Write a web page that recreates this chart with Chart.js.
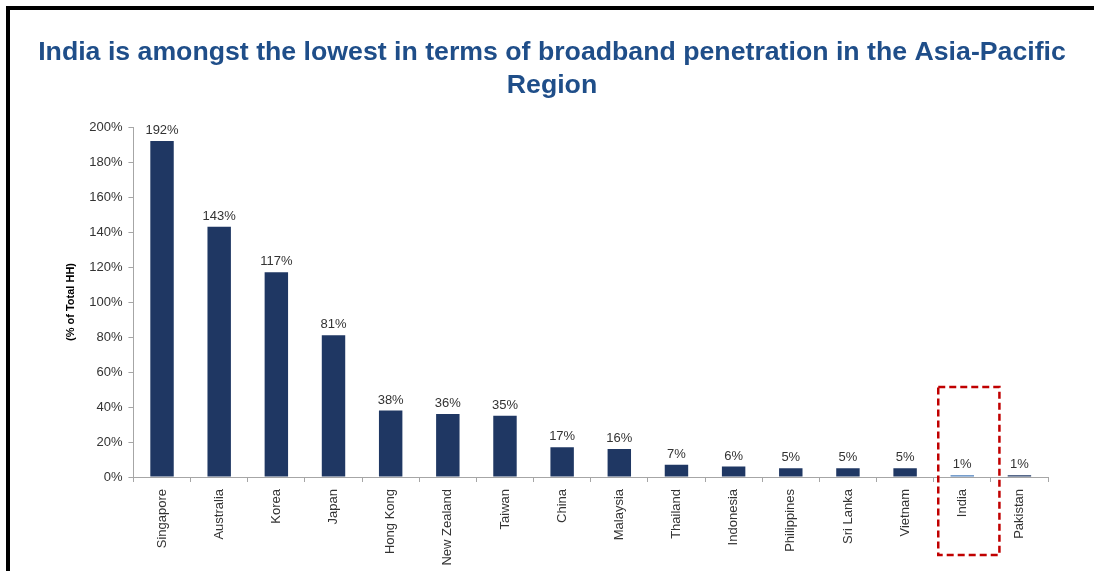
<!DOCTYPE html>
<html>
<head>
<meta charset="utf-8">
<title>Broadband penetration in Asia-Pacific</title>
<script src="https://cdn.jsdelivr.net/npm/chart.js@4"></script>
<style>
  html, body { margin: 0; padding: 0; background: #fff; }
  #wrap { position: relative; width: 1094px; height: 571px; overflow: hidden; }
  #frame {
    position: absolute; left: 6px; top: 6px; width: 1200px; height: 700px;
    border-top: 4px solid #000; border-left: 4px solid #000; pointer-events: none;
  }
  canvas { position: absolute; left: 0; top: 0; }
</style>
</head>
<body>
<div id="wrap">
  <canvas id="chart" width="1094" height="571"></canvas>
  <div id="frame"></div>
</div>
<script>
const countries = [
  'Singapore', 'Australia', 'Korea', 'Japan', 'Hong Kong', 'New Zealand', 'Taiwan', 'China',
  'Malaysia', 'Thailand', 'Indonesia', 'Philippines', 'Sri Lanka', 'Vietnam', 'India', 'Pakistan',
];
const penetration = [192, 143, 117, 81, 38, 36, 35, 17, 16, 7, 6, 5, 5, 5, 1, 1];
const highlight = 'India';
const titleLines = [
  'India is amongst the lowest in terms of broadband penetration in the Asia-Pacific',
  'Region',
];

const NAVY = '#1F3763';
const HIGHLIGHT_BLUE = '#4A7EBB';
const AXIS_GREY = '#A6A6A6';
const TEXT = '#333333';
const FONT = 'Arial, "Liberation Sans", Helvetica, sans-serif';

// two-line heading, drawn by hand so it can run wider than the plot
const heading = {
  id: 'heading',
  afterDraw(chart) {
    const { ctx } = chart;
    ctx.save();
    ctx.font = `bold 26.7px ${FONT}`;
    ctx.fillStyle = '#1F4E89';
    ctx.textAlign = 'center';
    ctx.textBaseline = 'middle';
    titleLines.forEach((line, i) => {
      ctx.fillText(line, chart.width / 2 + 5, 53 + i * 33);
    });
    ctx.restore();
  },
};

// value labels over each bar
const valueLabels = {
  id: 'valueLabels',
  afterDatasetsDraw(chart) {
    const { ctx } = chart;
    const meta = chart.getDatasetMeta(0);
    ctx.save();
    ctx.font = `13px ${FONT}`;
    ctx.fillStyle = TEXT;
    ctx.textAlign = 'center';
    ctx.textBaseline = 'bottom';
    meta.data.forEach((bar, i) => {
      ctx.fillText(penetration[i] + '%', bar.x, bar.y - 4);
    });
    ctx.restore();
  },
};

// dashed call-out box around the highlighted country
const highlightBox = {
  id: 'highlightBox',
  afterDraw(chart) {
    const { ctx, chartArea } = chart;
    const x = chart.scales.x;
    const y = chart.scales.y;
    const idx = countries.indexOf(highlight);
    const cx = x.getPixelForValue(idx);
    const step = x.width / countries.length;
    const left = cx - step * 0.42;
    const right = cx + step * 0.65;
    const top = y.getPixelForValue(51.5);
    const bottom = chartArea.bottom + 78;
    ctx.save();
    ctx.strokeStyle = '#C00000';
    ctx.lineWidth = 2.5;
    ctx.setLineDash([7, 4]);
    ctx.strokeRect(left, top, right - left, bottom - top);
    ctx.restore();
  },
};

new Chart(document.getElementById('chart'), {
  type: 'bar',
  data: {
    labels: countries,
    datasets: [{
      data: penetration,
      backgroundColor: countries.map(c => (c === highlight ? HIGHLIGHT_BLUE : NAVY)),
      borderWidth: 0,
      categoryPercentage: 1,
      barPercentage: 0.41,
    }],
  },
  options: {
    responsive: false,
    animation: false,
    devicePixelRatio: 1,
    layout: { padding: { top: 127, left: 64, right: 46, bottom: 0 } },
    plugins: {
      legend: { display: false },
      tooltip: { enabled: false },
      title: { display: false },
    },
    scales: {
      x: {
        grid: { drawOnChartArea: false, tickLength: 5, color: AXIS_GREY },
        border: { color: AXIS_GREY },
        afterFit: scale => { scale.height = 94; },
        ticks: {
          color: TEXT,
          font: { family: FONT, size: 13 },
          minRotation: 90,
          maxRotation: 90,
          padding: 7,
          autoSkip: false,
        },
      },
      y: {
        min: 0,
        max: 200,
        grid: { drawOnChartArea: false, tickLength: 5, color: AXIS_GREY },
        border: { color: AXIS_GREY },
        ticks: {
          stepSize: 20,
          color: TEXT,
          font: { family: FONT, size: 13 },
          padding: 6,
          callback: v => v + '%',
        },
        title: {
          display: true,
          text: '(% of Total HH)',
          color: '#000',
          font: { family: FONT, size: 11, weight: 'bold' },
          padding: { top: 0, bottom: 6 },
        },
      },
    },
  },
  plugins: [heading, valueLabels, highlightBox],
});
</script>
</body>
</html>
